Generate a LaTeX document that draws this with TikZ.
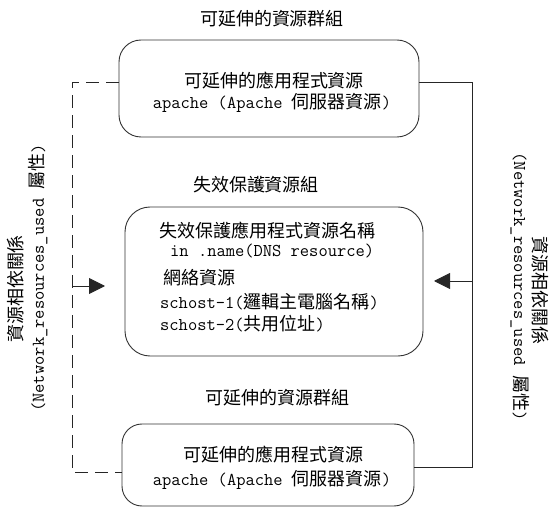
\documentclass[tikz,border=0pt]{standalone}
\usepackage{fontspec}
\newfontfamily\cjk{Noto Sans CJK TC}
\usetikzlibrary{arrows.meta}
\tikzset{
  boxstyle/.style={draw=black!80, line width=0.9pt, rounded corners=22pt, inner sep=0pt},
  txt/.style={font=\fontsize{18}{20}\selectfont, inner sep=0pt, anchor=base},
  conn/.style={draw=black!85, line width=0.9pt},
  dashconn/.style={conn, dash pattern=on 13pt off 7pt},
  arr/.style={conn, -{Triangle[length=16pt,width=16pt]}},
}
\begin{document}
\begin{tikzpicture}[x=1pt,y=-1pt]
\useasboundingbox (0,0) rectangle (550,508);
% boxes
\node[boxstyle, minimum width=300pt, minimum height=97pt] (top) at (269,88.5) {};
\node[boxstyle, rounded corners=25pt, minimum width=298pt, minimum height=149pt] (mid) at (274,281.5) {};
\node[boxstyle, rounded corners=20pt, minimum width=292pt, minimum height=82pt] (bot) at (268,465) {};
% top group
\node[txt] (toplab) at (272,25.8) {\cjk 可延伸的資源群組};
\node[txt] (top1) at (274,88) {\cjk 可延伸的應用程式資源};
\node[txt] (top2) at (272,109) {\ttfamily apache (Apache \cjk 伺服器資源\ttfamily )};
% middle group
\node[txt] (midlab) at (256,191.8) {\cjk 失效保護資源組};
\node[txt, anchor=base west] (m1) at (159,237.8) {\cjk 失效保護應用程式資源名稱};
\node[txt, anchor=base west] (m2) at (170,256.8) {\ttfamily in .name(DNS resource)};
\node[txt, anchor=base west] (m3) at (163,284.8) {\cjk 網絡資源};
\node[txt, anchor=base west] (m4) at (160,308.8) {\ttfamily schost-1(\cjk 邏輯主電腦名稱\ttfamily )};
\node[txt, anchor=base west] (m5) at (160,330.8) {\ttfamily schost-2(\cjk 共用位址\ttfamily )};
% bottom group
\node[txt] (botlab) at (277,404.8) {\cjk 可延伸的資源群組};
\node[txt] (bot1) at (273,461.8) {\cjk 可延伸的應用程式資源};
\node[txt] (bot2) at (272,485.8) {\ttfamily apache (Apache \cjk 伺服器資源\ttfamily )};
% side labels
\node[txt, anchor=center, rotate=90] (ll1) at (16,289) {\cjk 資源相依關係};
\node[txt, anchor=center, rotate=90] (ll2) at (38,278) {\ttfamily (Network\_resources\_used \cjk 屬性\ttfamily )};
\node[txt, anchor=center, rotate=-90] (rl1) at (540,290.5) {\cjk 資源相依關係};
\node[txt, anchor=center, rotate=-90] (rl2) at (520,286.5) {\ttfamily (Network\_resources\_used \cjk 屬性\ttfamily )};
% connectors
\coordinate (dtl) at (72,82);
\coordinate (dbl) at (72,472);
\draw[dashconn] (dtl -| top.west) -- (dtl) -- (dbl) -- (dbl -| bot.west);
\coordinate (rtr) at (472,82);
\coordinate (rbr) at (472,467);
\draw[conn] (rtr -| top.east) -- (rtr) -- (rbr) -- (rbr -| bot.east);
\coordinate (las) at (72,286);
\coordinate (lat) at (105,286);
\draw[arr] (las) -- (lat);
\coordinate (ras) at (472,281);
\coordinate (rat) at (434,281);
\draw[arr] (ras) -- (rat);
\end{tikzpicture}
\end{document}
